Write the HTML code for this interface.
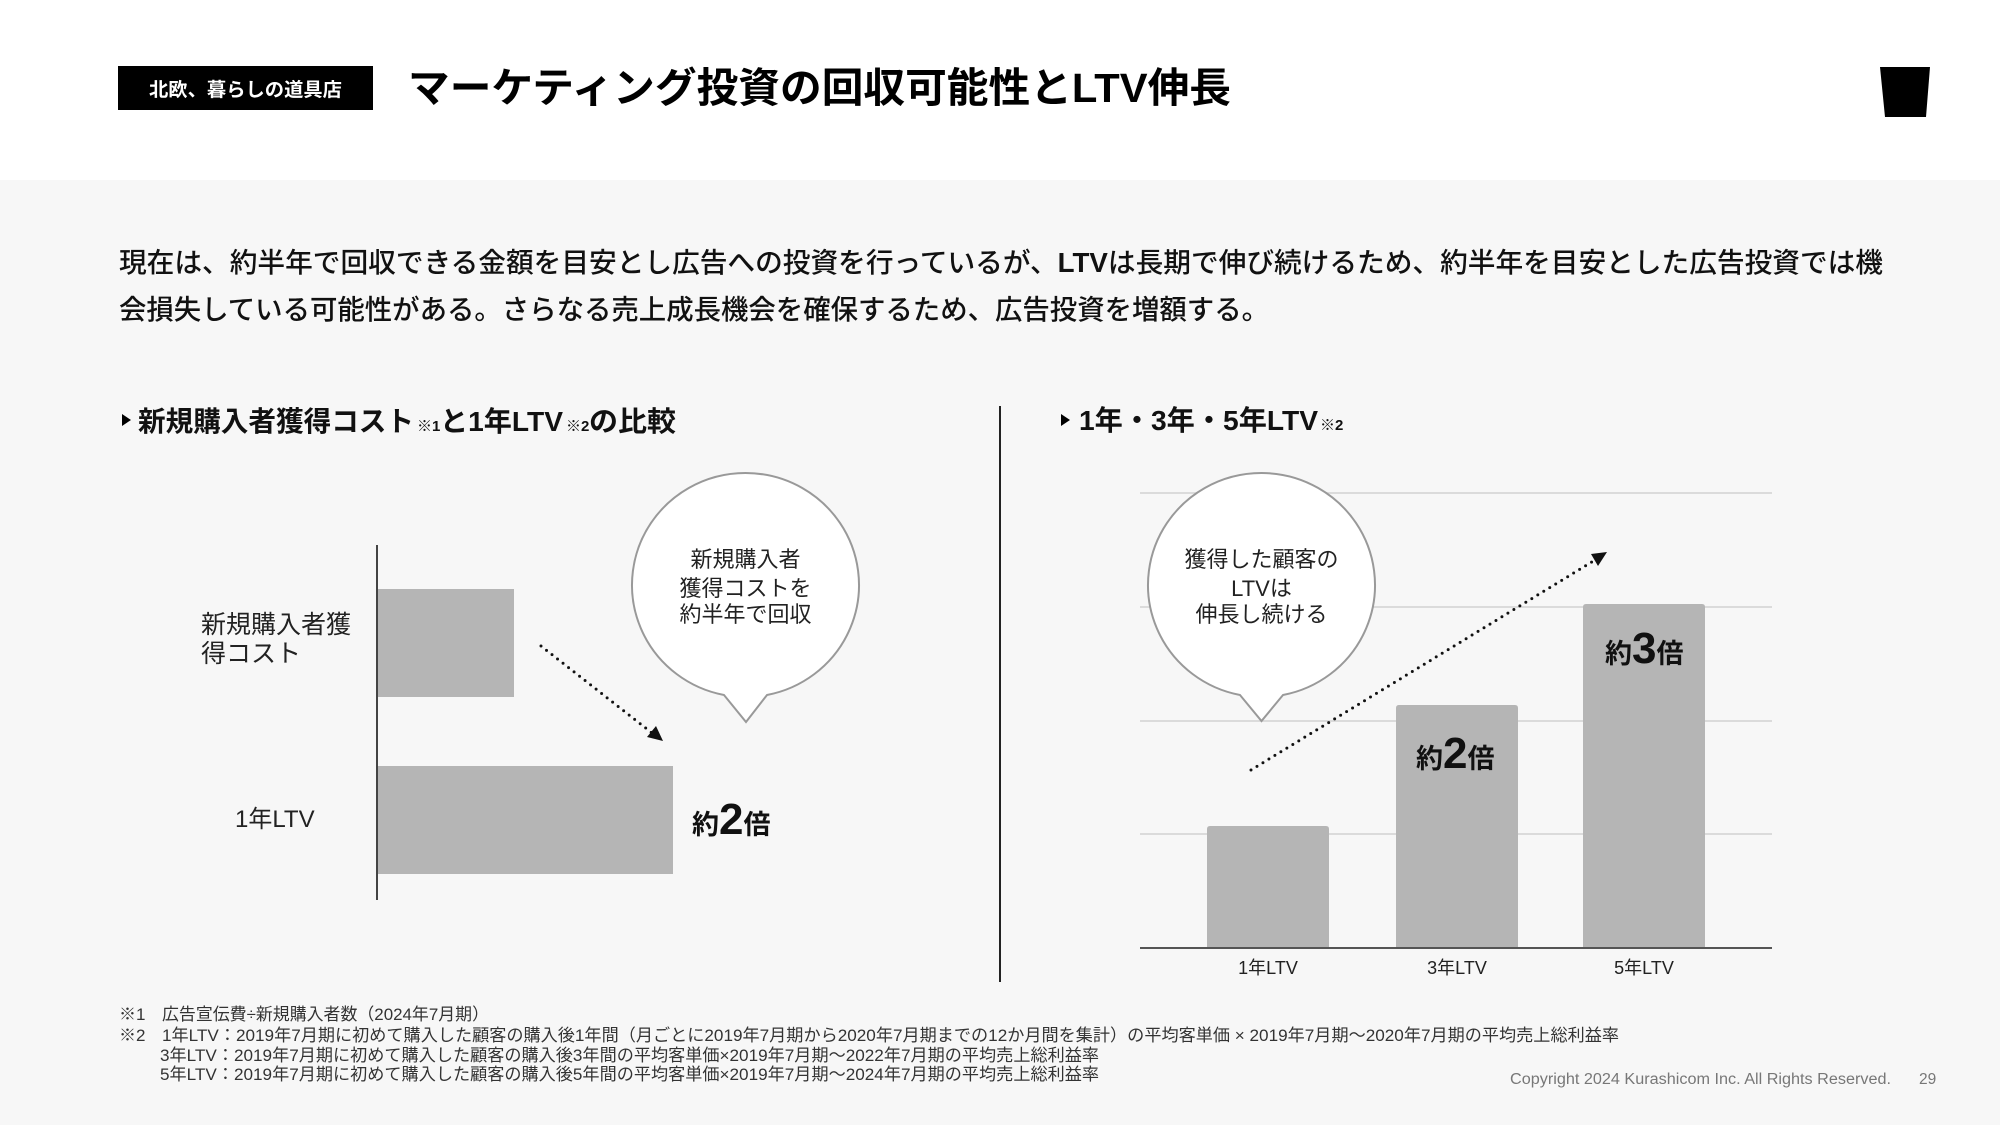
<!DOCTYPE html>
<html><head><meta charset="utf-8">
<style>
html,body{margin:0;padding:0;background:#f7f7f7;}
body{width:2000px;height:1125px;overflow:hidden;}
svg{display:block;}
text{font-family:"Liberation Sans","Noto Sans CJK JP",sans-serif;}
</style></head>
<body>
<svg width="2000" height="1125" viewBox="0 0 2000 1125" xmlns="http://www.w3.org/2000/svg">
<rect x="0" y="0" width="2000" height="1125" fill="#f7f7f7"/>
<rect x="0" y="0" width="2000" height="180" fill="#ffffff"/>

<!-- header -->
<rect x="118" y="66" width="255" height="44" fill="#000"/>
<text x="149" y="96" font-size="19" font-weight="700" fill="#fff" textLength="193" lengthAdjust="spacingAndGlyphs">北欧、暮らしの道具店</text>
<text x="408" y="102" font-size="41" font-weight="700" fill="#000" textLength="823" lengthAdjust="spacingAndGlyphs">マーケティング投資の回収可能性とLTV伸長</text>
<polygon points="1880,67 1930,67 1926,117 1885,117" fill="#000"/>

<!-- paragraph -->
<text x="119" y="272" font-size="27.5" font-weight="500" fill="#111" textLength="1764" lengthAdjust="spacingAndGlyphs">現在は、約半年で回収できる金額を目安とし広告への投資を行っているが、<tspan font-weight="700">LTV</tspan>は長期で伸び続けるため、約半年を目安とした広告投資では機</text>
<text x="119" y="319" font-size="27.5" font-weight="500" fill="#111" textLength="1150" lengthAdjust="spacingAndGlyphs">会損失している可能性がある。さらなる売上成長機会を確保するため、広告投資を増額する。</text>

<!-- section headers -->
<polygon points="122,414 131,420 122,426" fill="#000"/>
<text y="431" font-weight="700" fill="#111">
  <tspan x="138" font-size="28" textLength="276" lengthAdjust="spacingAndGlyphs">新規購入者獲得コスト</tspan>
</text>
<text x="417" y="431" font-size="15" font-weight="700" fill="#111">※1</text>
<text x="440" y="431" font-size="28" font-weight="700" fill="#111" textLength="123" lengthAdjust="spacingAndGlyphs">と1年LTV</text>
<text x="566" y="431" font-size="15" font-weight="700" fill="#111">※2</text>
<text x="589" y="431" font-size="28" font-weight="700" fill="#111" textLength="87" lengthAdjust="spacingAndGlyphs">の比較</text>

<polygon points="1061,414 1070,420 1061,426" fill="#000"/>
<text x="1079" y="430" font-size="28" font-weight="700" fill="#111" textLength="239" lengthAdjust="spacingAndGlyphs">1年・3年・5年LTV</text>
<text x="1320" y="430" font-size="15" font-weight="700" fill="#111">※2</text>

<!-- divider -->
<line x1="1000" y1="406" x2="1000" y2="982" stroke="#222" stroke-width="2"/>

<!-- left chart -->
<rect x="378" y="589" width="136" height="108" fill="#b5b5b5"/>
<rect x="378" y="766" width="295" height="108" fill="#b5b5b5"/>
<line x1="377" y1="545" x2="377" y2="900" stroke="#444" stroke-width="2"/>
<text x="201" y="633" font-size="25" fill="#222" textLength="150" lengthAdjust="spacingAndGlyphs">新規購入者獲</text>
<text x="201" y="662" font-size="25" fill="#222">得コスト</text>
<text x="235" y="827" font-size="24" fill="#222">1年LTV</text>

<!-- left bubble -->
<path d="M724,695 A113.5,112 0 1 1 767,695 L746,722 Z" fill="#fff" stroke="#999" stroke-width="2" stroke-linejoin="miter"/>
<text x="745.5" y="567" font-size="22" fill="#222" text-anchor="middle">新規購入者</text>
<text x="745.5" y="596" font-size="22" fill="#222" text-anchor="middle">獲得コストを</text>
<text x="745.5" y="622" font-size="22" fill="#222" text-anchor="middle">約半年で回収</text>

<!-- left arrow -->
<line x1="541" y1="646" x2="652" y2="733" stroke="#111" stroke-width="3" stroke-dasharray="0 7" stroke-linecap="round"/>
<polygon points="663,741 647,737 656,726" fill="#111"/>

<text x="692" y="834" font-weight="700" fill="#111"><tspan font-size="27">約</tspan><tspan font-size="44">2</tspan><tspan font-size="27">倍</tspan></text>

<!-- right chart grid -->
<line x1="1140" y1="493" x2="1772" y2="493" stroke="#d2d2d2" stroke-width="1.5"/>
<line x1="1140" y1="607" x2="1772" y2="607" stroke="#d2d2d2" stroke-width="1.5"/>
<line x1="1140" y1="721" x2="1772" y2="721" stroke="#d2d2d2" stroke-width="1.5"/>
<line x1="1140" y1="834" x2="1772" y2="834" stroke="#d2d2d2" stroke-width="1.5"/>

<path d="M1207,948 V829 Q1207,826 1210,826 H1326 Q1329,826 1329,829 V948 Z" fill="#b5b5b5"/>
<path d="M1396,948 V708 Q1396,705 1399,705 H1515 Q1518,705 1518,708 V948 Z" fill="#b5b5b5"/>
<path d="M1583,948 V607 Q1583,604 1586,604 H1702 Q1705,604 1705,607 V948 Z" fill="#b5b5b5"/>
<line x1="1140" y1="948" x2="1772" y2="948" stroke="#555" stroke-width="2"/>

<text x="1268" y="974" font-size="18" fill="#222" text-anchor="middle">1年LTV</text>
<text x="1457" y="974" font-size="18" fill="#222" text-anchor="middle">3年LTV</text>
<text x="1644" y="974" font-size="18" fill="#222" text-anchor="middle">5年LTV</text>

<text x="1416" y="768" font-weight="700" fill="#111"><tspan font-size="27">約</tspan><tspan font-size="44">2</tspan><tspan font-size="27">倍</tspan></text>
<text x="1605" y="663" font-weight="700" fill="#111"><tspan font-size="27">約</tspan><tspan font-size="44">3</tspan><tspan font-size="27">倍</tspan></text>

<!-- right bubble -->
<path d="M1240,695 A113.5,112 0 1 1 1283,695 L1261.5,721 Z" fill="#fff" stroke="#999" stroke-width="2"/>
<text x="1261.5" y="567" font-size="22" fill="#222" text-anchor="middle">獲得した顧客の</text>
<text x="1261.5" y="596" font-size="22" fill="#222" text-anchor="middle">LTVは</text>
<text x="1261.5" y="622" font-size="22" fill="#222" text-anchor="middle">伸長し続ける</text>

<!-- right arrow -->
<line x1="1251" y1="770" x2="1595" y2="560" stroke="#111" stroke-width="3" stroke-dasharray="0 7" stroke-linecap="round"/>
<polygon points="1607,552 1598,566 1591,554" fill="#111"/>

<!-- footnotes -->
<g font-size="17" fill="#333">
<text x="119" y="1020">※1</text>
<text x="162" y="1020" textLength="327" lengthAdjust="spacingAndGlyphs">広告宣伝費÷新規購入者数（2024年7月期）</text>
<text x="119" y="1041">※2</text>
<text x="162" y="1041" textLength="1457" lengthAdjust="spacingAndGlyphs">1年LTV：2019年7月期に初めて購入した顧客の購入後1年間（月ごとに2019年7月期から2020年7月期までの12か月間を集計）の平均客単価 × 2019年7月期～2020年7月期の平均売上総利益率</text>
<text x="160" y="1061" textLength="939" lengthAdjust="spacingAndGlyphs">3年LTV：2019年7月期に初めて購入した顧客の購入後3年間の平均客単価×2019年7月期～2022年7月期の平均売上総利益率</text>
<text x="160" y="1080" textLength="939" lengthAdjust="spacingAndGlyphs">5年LTV：2019年7月期に初めて購入した顧客の購入後5年間の平均客単価×2019年7月期～2024年7月期の平均売上総利益率</text>
</g>
<text x="1510" y="1084" font-size="15.5" fill="#777" textLength="381" lengthAdjust="spacingAndGlyphs">Copyright 2024 Kurashicom Inc. All Rights Reserved.</text>
<text x="1919" y="1084" font-size="15.5" fill="#777">29</text>
</svg>
</body></html>
